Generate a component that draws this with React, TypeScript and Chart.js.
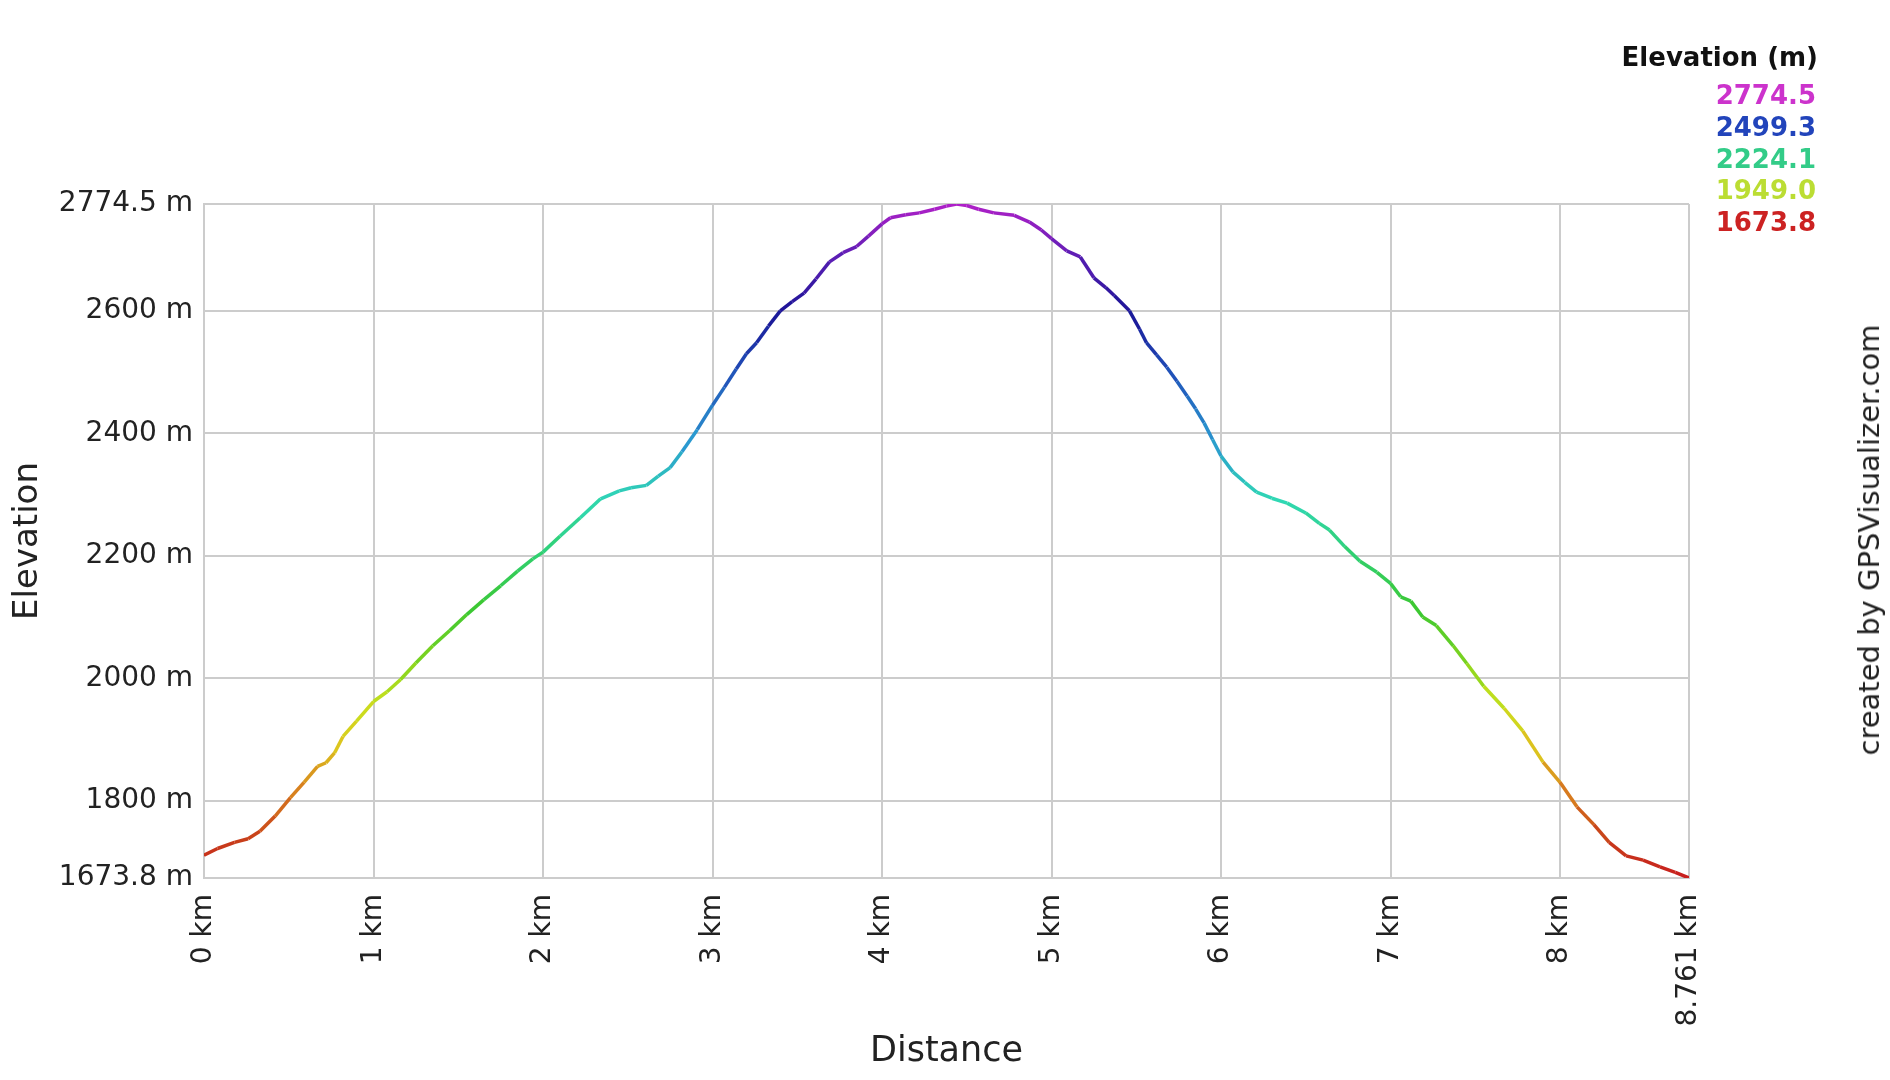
import React, { useEffect, useRef } from "react";
import { Chart, registerables } from "chart.js";

Chart.register(...registerables);

// ---- data ----
const distanceKm = [
  0.0, 0.08, 0.18, 0.26, 0.33, 0.42, 0.51, 0.59, 0.67, 0.72, 0.77, 0.82, 0.9,
  1.0, 1.08, 1.16, 1.25, 1.35, 1.45, 1.55, 1.65, 1.75, 1.85, 1.94, 2.0, 2.1,
  2.22, 2.34, 2.45, 2.52, 2.61, 2.68, 2.75, 2.82, 2.91, 3.0, 3.07, 3.14, 3.2,
  3.26, 3.33, 3.4, 3.47, 3.54, 3.61, 3.69, 3.77, 3.85, 3.92, 4.0, 4.05, 4.14,
  4.22, 4.31, 4.38, 4.44, 4.5, 4.57, 4.66, 4.78, 4.87, 4.94, 5.0, 5.09, 5.17,
  5.25, 5.32, 5.37, 5.46, 5.52, 5.56, 5.62, 5.68, 5.74, 5.8, 5.85, 5.9, 5.95,
  6.0, 6.07, 6.14, 6.21, 6.3, 6.39, 6.5, 6.58, 6.64, 6.73, 6.82, 6.92, 7.0,
  7.06, 7.12, 7.19, 7.27, 7.37, 7.45, 7.55, 7.67, 7.78, 7.9, 8.0, 8.1, 8.2,
  8.29, 8.39, 8.49, 8.59, 8.68, 8.761,
];
const elevationM = [
  1711, 1722, 1732, 1738, 1750, 1775, 1805, 1830, 1856, 1862, 1878, 1905, 1930,
  1962, 1978, 1998, 2025, 2053, 2078, 2104, 2128, 2151, 2175, 2195, 2206, 2232,
  2262, 2293, 2306, 2311, 2315, 2330, 2344, 2370, 2406, 2446, 2475, 2505, 2530,
  2548, 2575, 2600, 2615, 2629, 2652, 2680, 2695, 2705, 2722, 2742, 2752, 2757,
  2760, 2766, 2771, 2774.5, 2772, 2766, 2760, 2756, 2745, 2732, 2718, 2698, 2688,
  2654, 2638, 2625, 2600, 2570, 2548, 2528, 2508, 2485, 2461, 2440, 2417, 2390,
  2363, 2337, 2320, 2304, 2294, 2286, 2270, 2253, 2242, 2215, 2191, 2173, 2155,
  2133, 2126, 2100, 2086, 2053, 2024, 1987, 1951, 1914, 1863, 1830, 1790, 1761,
  1732, 1710, 1703, 1692, 1683, 1673.8,
];
const yTickValues = [1673.8, 1800, 2000, 2200, 2400, 2600, 2774.5];
const xTickValues = [0, 1, 2, 3, 4, 5, 6, 7, 8, 8.761];
const legendTitle = "Elevation (m)";
const legendValues = ["2774.5", "2499.3", "2224.1", "1949.0", "1673.8"];
const xTitle = "Distance";
const yTitle = "Elevation";
const creditText = "created by GPSVisualizer.com";

// ---- styles ----
const ELEV_MIN = 1673.8;
const ELEV_MAX = 2774.5;
const legendColors = ["#cc33cc", "#2244bb", "#33cc88", "#bbdd33", "#cc2222"];
const colorStops: [number, string][] = [
  [0, "#c81e1e"],
  [0.06, "#c8401a"],
  [0.13, "#d8801e"],
  [0.2, "#dcc81e"],
  [0.26, "#c8e01e"],
  [0.32, "#80d41e"],
  [0.4, "#3cc832"],
  [0.48, "#30d070"],
  [0.56, "#30d8b4"],
  [0.65, "#2a98d0"],
  [0.75, "#2050b8"],
  [0.84, "#1a1496"],
  [0.92, "#5a1eb4"],
  [1, "#b020c8"],
];
const FONT = "DejaVu Sans";
const TEXT = "#222222";
const GRID = "#cccccc";

function hexToRgb(h: string) {
  const n = parseInt(h.slice(1), 16);
  return [(n >> 16) & 255, (n >> 8) & 255, n & 255];
}
function colorFor(e: number) {
  const t = Math.max(0, Math.min(1, (e - ELEV_MIN) / (ELEV_MAX - ELEV_MIN)));
  for (let i = 1; i < colorStops.length; i++) {
    const [t1, c1] = colorStops[i];
    const [t0, c0] = colorStops[i - 1];
    if (t <= t1) {
      const f = (t - t0) / (t1 - t0 || 1);
      const a = hexToRgb(c0);
      const b = hexToRgb(c1);
      const r = a.map((v, k) => Math.round(v + (b[k] - v) * f));
      return `rgb(${r[0]},${r[1]},${r[2]})`;
    }
  }
  return colorStops[colorStops.length - 1][1];
}

export default function App() {
  const ref = useRef<HTMLCanvasElement | null>(null);

  useEffect(() => {
    document.body.style.margin = "0";
    document.body.style.overflow = "hidden";
    const canvas = ref.current;
    if (!canvas) return;
    const points = distanceKm.map((d, i) => ({ x: d, y: elevationM[i] }));
    const chart = new Chart(canvas, {
      type: "line",
      data: {
        datasets: [
          {
            data: points,
            borderWidth: 3.5,
            pointRadius: 0,
            tension: 0,
            borderColor: colorFor(2200),
            segment: {
              borderColor: (ctx: any) =>
                colorFor((ctx.p0.parsed.y + ctx.p1.parsed.y) / 2),
            },
          },
        ],
      },
      options: {
        responsive: false,
        animation: false,
        devicePixelRatio: 1,
        layout: { padding: { left: 0, top: 204, right: 201, bottom: 0 } },
        plugins: { legend: { display: false }, tooltip: { enabled: false } },
        scales: {
          x: {
            type: "linear",
            min: 0,
            max: 8.761,
            afterBuildTicks: (s: any) => {
              s.ticks = xTickValues.map((v) => ({ value: v }));
            },
            afterFit: (s: any) => {
              s.height = 202;
            },
            ticks: {
              autoSkip: false,
              minRotation: 90,
              maxRotation: 90,
              padding: 16,
              color: TEXT,
              font: { family: FONT, size: 28 },
              callback: (v: any) => `${v} km`,
            },
            grid: { color: GRID, lineWidth: 2, drawTicks: false },
            border: { color: GRID, width: 2 },
            title: {
              display: true,
              text: xTitle,
              color: TEXT,
              font: { family: FONT, size: 35 },
              padding: { top: 0, bottom: 7 },
            },
          },
          y: {
            type: "linear",
            min: ELEV_MIN,
            max: ELEV_MAX,
            afterBuildTicks: (s: any) => {
              s.ticks = yTickValues.map((v) => ({ value: v }));
            },
            afterFit: (s: any) => {
              s.width = 204;
            },
            ticks: {
              padding: 11,
              color: TEXT,
              font: { family: FONT, size: 28 },
              callback: (v: any) => `${v} m`,
            },
            grid: { color: GRID, lineWidth: 2, drawTicks: false },
            border: { color: GRID, width: 2 },
            title: {
              display: true,
              text: yTitle,
              color: TEXT,
              font: { family: FONT, size: 34 },
              padding: { top: 8, bottom: 0 },
            },
          },
        },
      },
    } as any);
    return () => chart.destroy();
  }, []);

  const valueBaselines = [104, 136, 167.5, 199, 230.5];

  return (
    <div
      style={{
        position: "absolute",
        left: 0,
        top: 0,
        width: 1890,
        height: 1080,
        background: "#ffffff",
        overflow: "hidden",
      }}
    >
      <canvas ref={ref} width={1890} height={1080} style={{ position: "absolute", left: 0, top: 0 }} />
      <div
        style={{
          position: "absolute",
          right: 1890 - 1818,
          top: 66 - 22,
          fontFamily: FONT,
          fontWeight: "bold",
          fontSize: 26,
          lineHeight: "26px",
          color: "#111",
          whiteSpace: "nowrap",
        }}
      >
        {legendTitle}
      </div>
      {legendValues.map((v, i) => (
        <div
          key={v}
          style={{
            position: "absolute",
            right: 1890 - 1816,
            top: valueBaselines[i] - 22,
            fontFamily: FONT,
            fontWeight: "bold",
            fontSize: 26,
            lineHeight: "26px",
            color: legendColors[i],
            whiteSpace: "nowrap",
          }}
        >
          {v}
        </div>
      ))}
      <div
        style={{
          position: "absolute",
          left: 1869,
          top: 540,
          transform: "translate(-50%, -50%) rotate(-90deg)",
          fontFamily: FONT,
          fontSize: 29,
          lineHeight: "34px",
          color: TEXT,
          whiteSpace: "nowrap",
        }}
      >
        {creditText}
      </div>
    </div>
  );
}
